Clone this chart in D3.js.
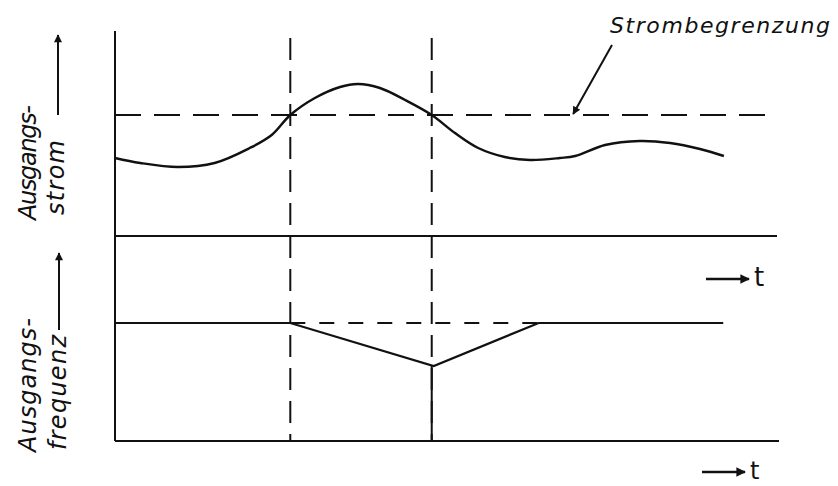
<!DOCTYPE html>
<html>
<head>
<meta charset="utf-8">
<script src="https://cdn.jsdelivr.net/npm/d3@7"></script>
<style>
  body { margin: 0; background: #fff; }
  text { font-family: "DejaVu Sans", sans-serif; font-style: italic; font-weight: 200; fill: #111; }
</style>
</head>
<body>
<div id="chart"></div>
<script>
/* Ausgangsstrom / Ausgangsfrequenz bei Strombegrenzung */

// output current over time (arbitrary units)
const currentT = [0, 3.8, 9.5, 15, 20.3, 23.6, 26.4, 30.1, 33.9, 36.6, 39.9, 43.7, 47.7, 51.2, 54.7, 58.7, 62.5, 67, 69.3, 73.8, 79, 83.6, 88.1, 91.7];
const currentV = [39, 36.5, 34.5, 36.5, 44, 50.5, 60.5, 69, 74.5, 76, 74, 68, 60.5, 51.5, 44, 39.5, 38, 39, 40, 45.5, 47.5, 46.5, 43.5, 40];

// output frequency over time
const freqT = [0, 26.4, 48, 63.8, 91.6];
const freqV = [59, 59, 37.5, 59, 59];

const limitValue = 60.5;       // Strombegrenzung
const nominalFreq = 59;
const markerT = [26.4, 47.7];  // begin / end of limiting

const labels = {
    limit: "Strombegrenzung",
    topA: "Ausgangs-", topB: "strom",
    botA: "Ausgangs-", botB: "frequenz",
    time: "t"
};

const width = 838, height = 486;

const svg = d3.select("#chart")
    .append("svg")
    .attr("width", width)
    .attr("height", height)
    .attr("viewBox", [0, 0, width, height]);

const defs = svg.append("defs");
defs.append("marker")
    .attr("id", "head")
    .attr("viewBox", "0 0 10 10")
    .attr("refX", 9).attr("refY", 5)
    .attr("markerWidth", 5.5).attr("markerHeight", 4)
    .attr("markerUnits", "strokeWidth")
    .attr("orient", "auto")
    .append("path")
    .attr("d", "M0,0 L10,5 L0,10 Z")
    .attr("fill", "#111");

let x = d3.scaleLinear().domain([0, 100]).range([115, 779]);
let yCur = d3.scaleLinear().domain([0, 100]).range([236, 36]);
let yFreq = d3.scaleLinear().domain([0, 100]).range([441, 241]);

const ink = "#111";

function seg(x1, y1, x2, y2, w, dash) {
    return svg.append("line")
        .attr("x1", x1).attr("y1", y1).attr("x2", x2).attr("y2", y2)
        .attr("stroke", ink)
        .attr("stroke-width", w)
        .attr("stroke-dasharray", dash || null);
}

// left axis + baselines
seg(x(0), yCur(102.5), x(0), yFreq(0), 2);
seg(x(0), yCur(0), x(99.7), yCur(0), 2);
seg(x(0), yFreq(0), x(100), yFreq(0), 2);

// current limit (dashed)
seg(x(0), yCur(limitValue), x(99), yCur(limitValue), 2, "26,13");

// vertical markers
markerT.forEach(t => seg(x(t), yCur(99), x(t), yFreq(0), 2, "22,11"));
seg(x(markerT[1]), yFreq(d3.min(freqV)), x(markerT[1]), yFreq(0), 2);

// nominal frequency dashed continuation
seg(x(freqT[1]), yFreq(nominalFreq), x(freqT[3]), yFreq(nominalFreq), 2, "15,14");

// current curve
const curLine = d3.line()
    .x(d => x(d[0]))
    .y(d => yCur(d[1]))
    .curve(d3.curveCatmullRom);
svg.append("path")
    .datum(d3.zip(currentT, currentV))
    .attr("d", curLine)
    .attr("fill", "none")
    .attr("stroke", ink)
    .attr("stroke-width", 2.4);

// frequency curve
const freqLine = d3.line()
    .x(d => x(d[0]))
    .y(d => yFreq(d[1]));
svg.append("path")
    .datum(d3.zip(freqT, freqV))
    .attr("d", freqLine)
    .attr("fill", "none")
    .attr("stroke", ink)
    .attr("stroke-width", 2.2);

// annotation
svg.append("text")
    .attr("x", 610).attr("y", 33)
    .attr("textLength", 220)
    .style("font-size", "22px")
    .text(labels.limit);
seg(612, 45, x(69), yCur(limitValue) - 1, 2).attr("marker-end", "url(#head)");

// left labels (rotated)
function vlabel(str, cx, y0, len, size) {
    svg.append("text")
        .attr("transform", `translate(${cx},${y0}) rotate(-90)`)
        .attr("textLength", len)
        .style("font-size", size + "px")
        .text(str);
}
vlabel(labels.topA, 36, 220, 115, 24);
vlabel(labels.topB, 64, 215, 75, 24);
vlabel(labels.botA, 36, 452, 134, 24);
vlabel(labels.botB, 66, 450, 115, 24);

seg(58, 115, 58, 35, 2).attr("marker-end", "url(#head)");
seg(59, 330, 59, 253, 2).attr("marker-end", "url(#head)");

// time arrows
function timeArrow(x0, y0, size) {
    seg(x0, y0, x0 + 43, y0, 2.4).attr("marker-end", "url(#head)");
    svg.append("text")
        .attr("x", x0 + 48).attr("y", y0 + 7)
        .style("font-size", size + "px")
        .style("font-style", "normal")
        .style("font-weight", "normal")
        .text(labels.time);
}
timeArrow(706, 279, 26);
timeArrow(702, 472, 24);
</script>
</body>
</html>
